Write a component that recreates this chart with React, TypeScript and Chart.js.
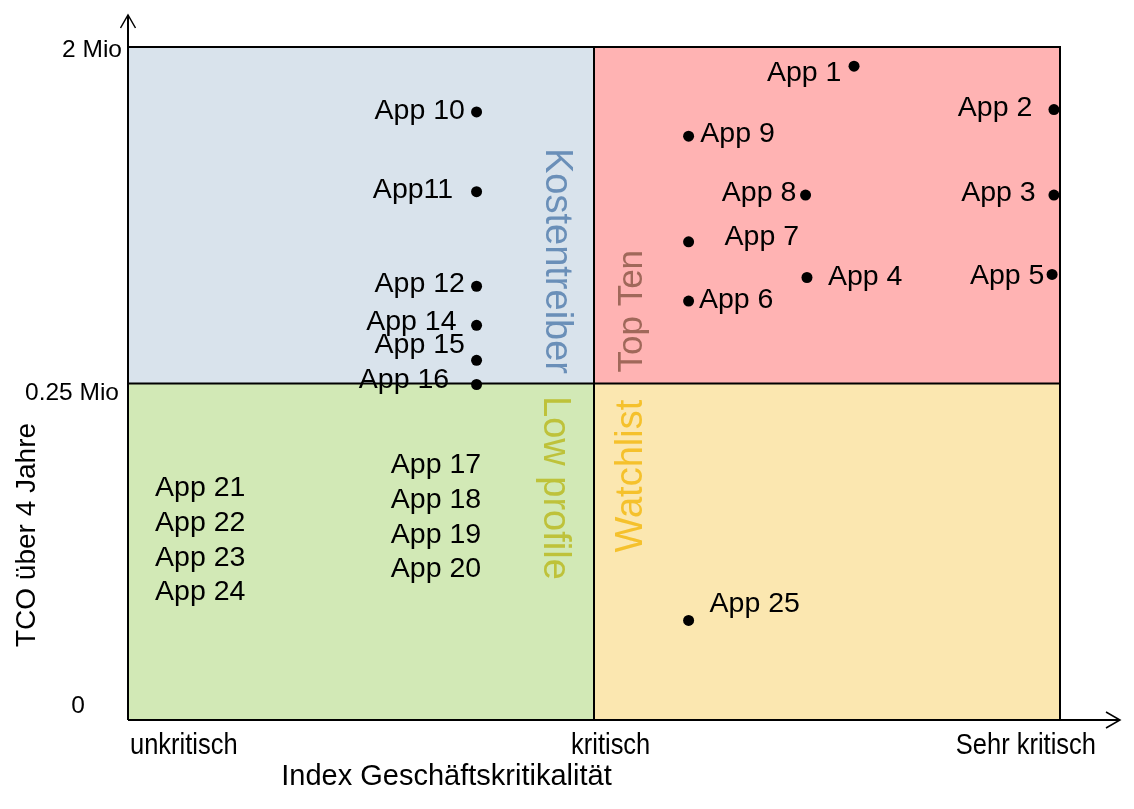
import React, { useEffect, useRef } from 'react';
import { Chart, registerables } from 'chart.js';

Chart.register(...registerables);

const FONT = '"Liberation Sans", Arial, Helvetica, sans-serif';

// ---- data -------------------------------------------------------------
const appNames = [
  'App 1', 'App 2', 'App 3', 'App 4', 'App 5', 'App 6', 'App 7', 'App 8', 'App 9',
  'App 10', 'App11', 'App 12', 'App 14', 'App 15', 'App 16', 'App 25',
];
const appCriticality = [
  1.558, 1.987, 1.987, 1.457, 1.983, 1.203, 1.203, 1.454, 1.203,
  0.748, 0.748, 0.748, 0.748, 0.748, 0.748, 1.203,
];
const appTco = [
  1.943, 1.814, 1.560, 1.315, 1.324, 1.245, 1.421, 1.560, 1.735,
  1.807, 1.570, 1.289, 1.173, 1.069, 0.997, 0.296,
];

const listNames = ['App 17', 'App 18', 'App 19', 'App 20', 'App 21', 'App 22', 'App 23', 'App 24'];
const listCriticality = [0.564, 0.564, 0.564, 0.564, 0.058, 0.058, 0.058, 0.058];
const listTco = [0.733, 0.630, 0.526, 0.424, 0.665, 0.561, 0.457, 0.356];

const xTickValues = [0, 1, 2];
const xTickLabels = ['unkritisch', 'kritisch', 'Sehr kritisch'];
const yTickValues = [0, 1, 2];
const yTickLabels = ['0', '0.25 Mio', '2 Mio'];

const quadrantNames = ['Kostentreiber', 'Top Ten', 'Low profile', 'Watchlist'];
const xAxisTitle = 'Index Geschäftskritikalität';
const yAxisTitle = 'TCO über 4 Jahre';

// ---- styles / placements (not data) ------------------------------------
// label anchor relative to the dot: [dx, dy (baseline), align]
const labelPlacement: [number, number, CanvasTextAlign][] = [
  [-12.6, 15, 'right'], [-21.6, 6, 'right'], [-18.3, 6, 'right'], [21, 7, 'left'],
  [-7.7, 9.3, 'right'], [10.3, 6.6, 'left'], [36, 2.7, 'left'], [-9.3, 6, 'right'],
  [11.7, 5.6, 'left'], [-11.7, 6.7, 'right'], [-23.4, 6, 'right'], [-11.7, 5.6, 'right'],
  [-20, 5, 'right'], [-11.7, -7.4, 'right'], [-27.4, 3.3, 'right'], [21, -8.7, 'left'],
];
const quadrantFill = ['#d9e3ec', '#ffb3b3', '#d2e9b6', '#fbe7b0'];
const quadrantTextColor = ['#6a8fb8', '#a0685a', '#bec23a', '#f5c12c'];

const quadrantPlugin = {
  id: 'quadrantPlugin',
  beforeDatasetsDraw(chart: any) {
    const { ctx, scales } = chart;
    const x = scales.x, y = scales.y;
    const x0 = x.getPixelForValue(0), xm = x.getPixelForValue(1), x2 = x.getPixelForValue(2);
    const y0 = y.getPixelForValue(0), ym = y.getPixelForValue(1), y2 = y.getPixelForValue(2);
    ctx.save();
    // backgrounds
    ctx.fillStyle = quadrantFill[0]; ctx.fillRect(x0, y2, xm - x0, ym - y2);
    ctx.fillStyle = quadrantFill[1]; ctx.fillRect(xm, y2, x2 - xm, ym - y2);
    ctx.fillStyle = quadrantFill[2]; ctx.fillRect(x0, ym, xm - x0, y0 - ym);
    ctx.fillStyle = quadrantFill[3]; ctx.fillRect(xm, ym, x2 - xm, y0 - ym);

    // quadrant names
    ctx.textBaseline = 'alphabetic';
    ctx.textAlign = 'left';
    const drawRot = (text: string, color: string, px: number, py: number, ang: number, size: number) => {
      ctx.save();
      ctx.translate(px, py);
      ctx.rotate(ang);
      ctx.font = `${size}px ${FONT}`;
      ctx.fillStyle = color;
      ctx.fillText(text, 0, 0);
      ctx.restore();
    };
    drawRot(quadrantNames[0], quadrantTextColor[0], xm - 48, y2 + 101, Math.PI / 2, 38);
    drawRot(quadrantNames[2], quadrantTextColor[2], xm - 50, ym + 12.5, Math.PI / 2, 38);
    drawRot(quadrantNames[1], quadrantTextColor[1], xm + 48, ym - 11, -Math.PI / 2, 35);
    drawRot(quadrantNames[3], quadrantTextColor[3], xm + 48, ym + 169, -Math.PI / 2, 38);

    // borders
    ctx.strokeStyle = '#000';
    ctx.lineWidth = 2;
    ctx.beginPath();
    ctx.moveTo(x0, y2); ctx.lineTo(x2, y2); ctx.lineTo(x2, y0);
    ctx.moveTo(xm, y2); ctx.lineTo(xm, y0);
    ctx.moveTo(x0, ym); ctx.lineTo(x2, ym);
    ctx.stroke();

    // axes with arrows
    ctx.beginPath();
    ctx.moveTo(x0, y0); ctx.lineTo(x0, 15);
    ctx.moveTo(x0, y0); ctx.lineTo(1120, y0);
    ctx.stroke();
    ctx.lineWidth = 1.5;
    ctx.beginPath();
    ctx.moveTo(x0 - 7.5, 28); ctx.lineTo(x0, 15); ctx.lineTo(x0 + 7.5, 28);
    ctx.moveTo(1106, y0 - 8); ctx.lineTo(1120, y0); ctx.lineTo(1106, y0 + 8);
    ctx.stroke();

    // y tick labels
    ctx.fillStyle = '#000';
    ctx.font = `24.5px ${FONT}`;
    ctx.textAlign = 'right';
    const yOff: [number, number][] = [[-43, -7], [-9, 16], [-6, 9.5]];
    yTickValues.forEach((v, i) => {
      ctx.fillText(yTickLabels[i], x0 + yOff[i][0], y.getPixelForValue(v) + yOff[i][1]);
    });

    // x tick labels (slightly condensed)
    const xPlace: [number, CanvasTextAlign][] = [[2, 'left'], [-23, 'left'], [36, 'right']];
    xTickValues.forEach((v, i) => {
      ctx.save();
      ctx.translate(x.getPixelForValue(v) + xPlace[i][0], 754);
      ctx.scale(0.91, 1.05);
      ctx.font = `28px ${FONT}`;
      ctx.textAlign = xPlace[i][1];
      ctx.fillText(xTickLabels[i], 0, 0);
      ctx.restore();
    });

    // axis titles
    ctx.font = `29px ${FONT}`;
    ctx.textAlign = 'center';
    ctx.fillText(xAxisTitle, 446.5, 785);
    ctx.save();
    ctx.translate(35, 535);
    ctx.rotate(-Math.PI / 2);
    ctx.font = `28px ${FONT}`;
    ctx.fillText(yAxisTitle, 0, 0);
    ctx.restore();
    ctx.restore();
  },
  afterDatasetsDraw(chart: any) {
    const { ctx } = chart;
    ctx.save();
    ctx.fillStyle = '#000';
    ctx.font = `28.5px ${FONT}`;
    ctx.textBaseline = 'alphabetic';
    const m0 = chart.getDatasetMeta(0).data;
    m0.forEach((pt: any, i: number) => {
      const [dx, dy, al] = labelPlacement[i];
      ctx.textAlign = al;
      ctx.fillText(appNames[i], pt.x + dx, pt.y + dy);
    });
    const m1 = chart.getDatasetMeta(1).data;
    m1.forEach((pt: any, i: number) => {
      ctx.textAlign = 'left';
      ctx.fillText(listNames[i], pt.x, pt.y);
    });
    ctx.restore();
  },
};

export default function App() {
  const ref = useRef<HTMLCanvasElement | null>(null);
  useEffect(() => {
    if (!ref.current) return;
    const chart = new Chart(ref.current, {
      type: 'scatter',
      data: {
        datasets: [
          {
            data: appCriticality.map((v, i) => ({ x: v, y: appTco[i] })),
            pointRadius: 5.5,
            pointHoverRadius: 5.5,
            backgroundColor: '#000',
            borderWidth: 0,
            clip: false as any,
          },
          {
            data: listCriticality.map((v, i) => ({ x: v, y: listTco[i] })),
            pointRadius: 0,
            pointHoverRadius: 0,
            backgroundColor: 'rgba(0,0,0,0)',
            borderWidth: 0,
          },
        ],
      },
      options: {
        animation: false,
        responsive: false,
        maintainAspectRatio: false,
        layout: { padding: { left: 128, top: 47, right: 74, bottom: 89 } },
        plugins: { legend: { display: false }, tooltip: { enabled: false } },
        events: [],
        scales: {
          x: { type: 'linear', min: 0, max: 2, display: false },
          y: { type: 'linear', min: 0, max: 2, display: false },
        },
      },
      plugins: [quadrantPlugin],
    });
    return () => chart.destroy();
  }, []);
  return (
    <div style={{ position: 'absolute', left: 0, top: 0, width: 1134, height: 809, background: '#fff' }}>
      <canvas ref={ref} width={1134} height={809} style={{ display: 'block' }} />
    </div>
  );
}
